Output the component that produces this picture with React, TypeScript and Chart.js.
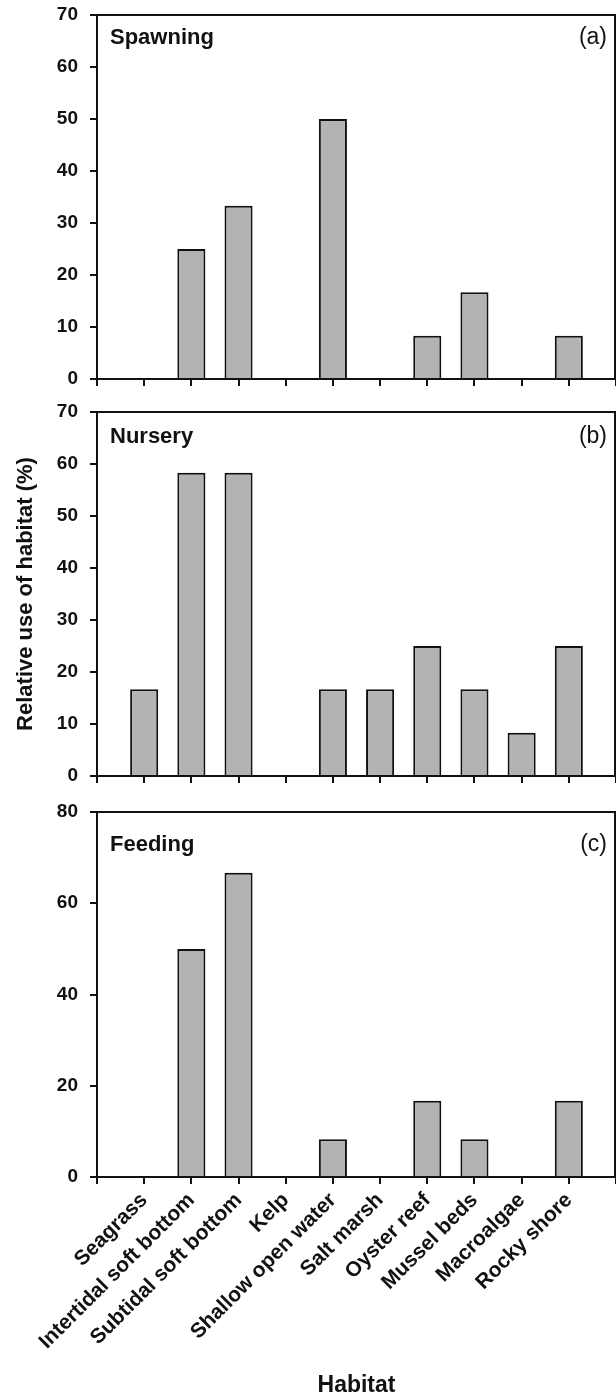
import React, { useEffect, useRef } from "react";
import { Chart, registerables } from "chart.js";

Chart.register(...registerables);

// ---- data ----
const HABITATS = [
  "Seagrass",
  "Intertidal soft bottom",
  "Subtidal soft bottom",
  "Kelp",
  "Shallow open water",
  "Salt marsh",
  "Oyster reef",
  "Mussel beds",
  "Macroalgae",
  "Rocky shore",
];
const SPAWNING = [0, 25, 33.3, 0, 50, 0, 8.3, 16.7, 0, 8.3];
const NURSERY = [16.7, 58.3, 58.3, 0, 16.7, 16.7, 25, 16.7, 8.3, 25];
const FEEDING = [0, 50, 66.7, 0, 8.3, 0, 16.7, 8.3, 0, 16.7];
const PANEL_TITLES = ["Spawning", "Nursery", "Feeding"];
const PANEL_LETTERS = ["(a)", "(b)", "(c)"];
const Y_MAX = [70, 70, 80];
const Y_STEP = [10, 10, 20];
const Y_TITLE = "Relative use of habitat (%)";
const X_TITLE = "Habitat";

const SERIES = [SPAWNING, NURSERY, FEEDING];

// ---- layout / style (not data) ----
const FONT = "'Liberation Sans', Arial, Helvetica, sans-serif";
const INK = "#111111";
const BAR_FILL = "#b3b3b3";
const PANELS = [
  { top: 0, height: 400, padTop: 15, xHeight: 21, labelBaseline: 29 },
  { top: 400, height: 400, padTop: 12, xHeight: 24, labelBaseline: 31 },
  { top: 800, height: 597, padTop: 12, xHeight: 220, labelBaseline: 39 },
];

const framePlugin = {
  id: "frame",
  afterDraw(chart: any) {
    const { ctx, chartArea } = chart;
    const { left, top, right, bottom } = chartArea;
    ctx.save();
    ctx.strokeStyle = INK;
    ctx.lineWidth = 2;
    ctx.beginPath();
    ctx.moveTo(left, top);
    ctx.lineTo(right - 1, top);
    ctx.lineTo(right - 1, bottom);
    ctx.stroke();
    ctx.restore();
  },
};

const panelLabelPlugin = {
  id: "panelLabel",
  afterDraw(chart: any, _args: any, opts: any) {
    if (!opts || !opts.title) return;
    const { ctx, chartArea } = chart;
    const y = chartArea.top + opts.baseline;
    ctx.save();
    ctx.fillStyle = INK;
    ctx.textBaseline = "alphabetic";
    ctx.font = `bold 22px ${FONT}`;
    ctx.textAlign = "left";
    ctx.fillText(opts.title, chartArea.left + 13, y);
    ctx.font = `normal 23px ${FONT}`;
    ctx.textAlign = "right";
    ctx.fillText(opts.letter, chartArea.right - 9, y);
    ctx.restore();
  },
};

function Panel({ index }: { index: number }) {
  const ref = useRef<HTMLCanvasElement | null>(null);
  const p = PANELS[index];
  useEffect(() => {
    if (!ref.current) return;
    const isLast = index === PANELS.length - 1;
    const labels = ["", ...HABITATS, ""];
    const values = [null, ...SERIES[index], null];
    const chart = new Chart(ref.current, {
      type: "bar",
      data: {
        labels,
        datasets: [
          {
            data: values as any,
            backgroundColor: BAR_FILL,
            borderColor: INK,
            borderWidth: 2,
            barPercentage: 0.595,
            categoryPercentage: 1,
          },
        ],
      },
      options: {
        animation: false,
        responsive: false,
        maintainAspectRatio: false,
        layout: { padding: { top: p.padTop, left: 0, right: 0, bottom: 0 } },
        plugins: {
          legend: { display: false },
          tooltip: { enabled: false },
          title: { display: false },
          panelLabel: {
            title: PANEL_TITLES[index],
            letter: PANEL_LETTERS[index],
            baseline: p.labelBaseline,
          },
        } as any,
        scales: {
          x: {
            type: "category",
            offset: false,
            grid: {
              offset: false,
              drawOnChartArea: false,
              drawTicks: true,
              tickLength: 7,
              color: INK,
              lineWidth: 2,
            },
            border: { display: true, color: INK, width: 2 },
            ticks: {
              display: isLast,
              autoSkip: false,
              maxRotation: 45,
              minRotation: 45,
              padding: 4,
              color: INK,
              font: { family: FONT, size: 21, weight: "bold" },
            },
            title: {
              display: isLast,
              text: X_TITLE,
              color: INK,
              font: { family: FONT, size: 23, weight: "bold", lineHeight: 1 },
              padding: { top: 0, bottom: 0 },
            },
            afterFit: (s: any) => {
              s.height = p.xHeight;
              s.paddingLeft = 0;
              s.paddingRight = 0;
            },
          },
          y: {
            min: 0,
            max: Y_MAX[index],
            ticks: {
              stepSize: Y_STEP[index],
              padding: 12,
              color: INK,
              font: { family: FONT, size: 19, weight: "bold" },
            },
            grid: {
              drawOnChartArea: false,
              drawTicks: true,
              tickLength: 7,
              color: INK,
              lineWidth: 2,
            },
            border: { display: true, color: INK, width: 2 },
            title: {
              display: index === 1,
              text: Y_TITLE,
              color: INK,
              font: { family: FONT, size: 22, weight: "bold" },
              padding: { top: 13, bottom: 0 },
            },
            afterFit: (s: any) => {
              s.width = 97;
              s.paddingTop = 0;
              s.paddingBottom = 0;
            },
          },
        },
      } as any,
      plugins: [framePlugin, panelLabelPlugin],
    });
    return () => chart.destroy();
  }, [index]);
  return (
    <canvas
      ref={ref}
      width={616}
      height={p.height}
      style={{
        position: "absolute",
        left: 0,
        top: p.top,
        width: 616,
        height: p.height,
        display: "block",
      }}
    />
  );
}

export default function App() {
  useEffect(() => {
    document.body.style.margin = "0";
  }, []);
  return (
    <div
      style={{
        position: "absolute",
        left: 0,
        top: 0,
        width: 616,
        height: 1397,
        background: "#ffffff",
        overflow: "hidden",
      }}
    >
      {PANELS.map((_, i) => (
        <Panel key={i} index={i} />
      ))}
    </div>
  );
}
